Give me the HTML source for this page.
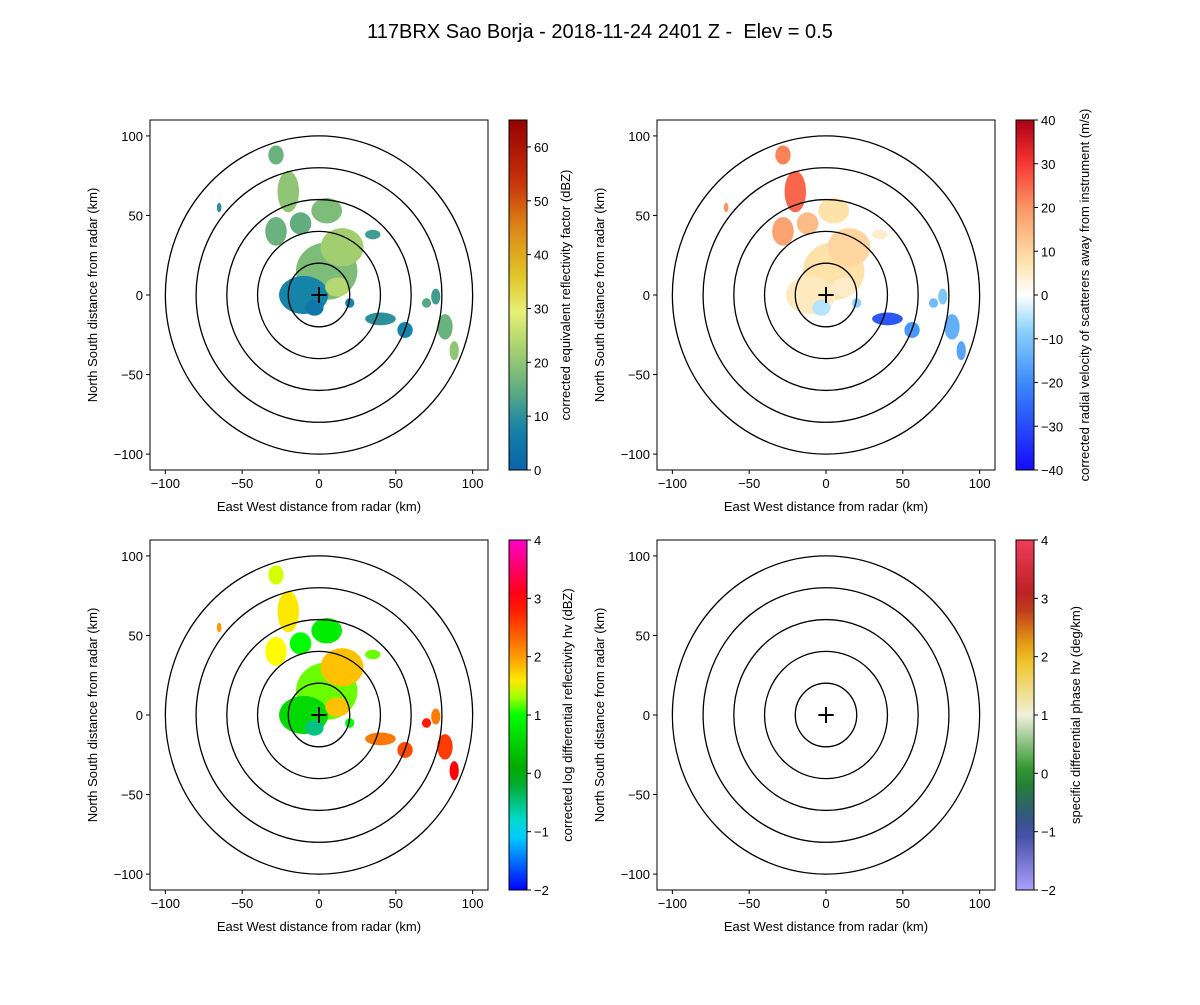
<!DOCTYPE html>
<html><head><meta charset="utf-8"><style>
body{margin:0;background:#fff;font-family:"Liberation Sans",sans-serif}
svg text{font-family:"Liberation Sans",sans-serif;fill:#000}
</style></head><body>
<svg id="fig" width="1200" height="1000" viewBox="0 0 1200 1000" xmlns="http://www.w3.org/2000/svg">
<rect width="1200" height="1000" fill="#fff"/>
<text x="600" y="38" text-anchor="middle" font-size="20" style="white-space:pre">117BRX Sao Borja - 2018-11-24 2401 Z -  Elev = 0.5</text>
</svg>
<script>
// echo cells: x km, y km, rx km, ry km
const cellX=[5,-10,15,-28,-12,5,-20,-28,35,-65,40,56,70,76,82,88,20,-3,12];
const cellY=[15,0,30,40,45,53,65,88,38,55,-15,-22,-5,-1,-20,-35,-5,-8,5];
const cellRX=[20,16,14,7,7,10,7,5,5,1.5,10,5,3,3,5,3,3,6,8];
const cellRY=[18,12,12,9,7,8,13,6,3,3,4,5,3,5,8,6,3,5,6];
const reflVals=[18,8,22,16,15,18,20,16,12,10,10,8,14,12,16,20,8,5,24];
const velVals=[8,6,10,18,14,8,25,22,5,20,-28,-18,-12,-10,-14,-16,-8,-5,5];
const zdrVals=[1.2,0.6,1.8,1.5,1.0,0.8,1.6,1.4,1.2,2,2.2,2.5,2.8,2.2,2.6,3.0,1.0,-0.5,1.8];
const refTicks=[0,10,20,30,40,50,60];
const velTicks=[-40,-30,-20,-10,0,10,20,30,40];
const zdrTicks=[-2,-1,0,1,2,3,4];
const kdpTicks=[-2,-1,0,1,2,3,4];
const axTicks=[-100,-50,0,50,100];
const rings=[20,40,60,80,100];

const NS='http://www.w3.org/2000/svg';
const svg=document.getElementById('fig');
function el(tag,attrs,parent){const e=document.createElementNS(NS,tag);for(const k in attrs)e.setAttribute(k,attrs[k]);(parent||svg).appendChild(e);return e;}
function interp(stops,t){t=Math.max(0,Math.min(1,t));for(let i=1;i<stops.length;i++){if(t<=stops[i][0]){const a=stops[i-1],b=stops[i];const f=(t-a[0])/(b[0]-a[0]||1);const c=[0,1,2].map(j=>Math.round(a[1][j]+(b[1][j]-a[1][j])*f));return `rgb(${c})`;}}const l=stops[stops.length-1][1];return `rgb(${l})`;}
const cmRef=[[0,[10,100,170]],[0.12,[20,130,170]],[0.22,[90,170,130]],[0.35,[170,210,110]],[0.45,[230,240,120]],[0.55,[225,200,40]],[0.7,[220,130,20]],[0.82,[200,50,10]],[1,[150,0,0]]];
const cmVel=[[0,[20,10,250]],[0.25,[60,140,250]],[0.4,[140,210,250]],[0.5,[255,255,255]],[0.6,[255,225,170]],[0.75,[250,150,100]],[0.88,[250,50,50]],[1,[170,0,20]]];
const cmZdr=[[0,[0,0,255]],[0.17,[0,230,255]],[0.33,[0,160,0]],[0.5,[0,255,0]],[0.58,[255,255,0]],[0.67,[255,150,0]],[0.83,[255,0,0]],[1,[255,0,200]]];
const cmKdp=[[0,[170,160,250]],[0.17,[60,70,160]],[0.33,[30,140,30]],[0.5,[240,240,220]],[0.67,[240,190,20]],[0.83,[180,30,30]],[1,[240,60,90]]];

const panels=[
 {x0:150,y0:120,name:'reflectivity',cm:cmRef,min:0,max:65,ticks:refTicks,vals:reflVals,lo:43,label:'corrected equivalent reflectivity factor (dBZ)'},
 {x0:657,y0:120,name:'velocity',cm:cmVel,min:-40,max:40,ticks:velTicks,vals:velVals,lo:55,label:'corrected radial velocity of scatterers away from instrument (m/s)'},
 {x0:150,y0:540,name:'zdr',cm:cmZdr,min:-2,max:4,ticks:zdrTicks,vals:zdrVals,lo:45,label:'corrected log differential reflectivity hv (dBZ)'},
 {x0:657,y0:540,name:'kdp',cm:cmKdp,min:-2,max:4,ticks:kdpTicks,vals:null,lo:46,label:'specific differential phase hv (deg/km)'}
];
const W=338,H=350;
panels.forEach((p,pi)=>{
 const g=el('g',{});
 
 
 const sx=v=>p.x0+(v+110)/220*W;
 const sy=v=>p.y0+H-(v+110)/220*H;
 const kx=W/220,ky=H/220;
 if(p.vals){
  cellX.forEach((cx,i)=>{
   const e=el('ellipse',{cx:sx(cx),cy:sy(cellY[i]),rx:cellRX[i]*kx,ry:cellRY[i]*ky,fill:interp(p.cm,(p.vals[i]-p.min)/(p.max-p.min))},g);
   
   
  });
 }
 rings.forEach(r=>{const c=el('ellipse',{cx:sx(0),cy:sy(0),rx:r*kx,ry:r*ky,fill:'none',stroke:'#000','stroke-width':1.3},g);
  
  });
 el('line',{x1:sx(-5),x2:sx(5),y1:sy(0),y2:sy(0),stroke:'#000','stroke-width':2},g);
 el('line',{x1:sx(0),x2:sx(0),y1:sy(-5),y2:sy(5),stroke:'#000','stroke-width':2},g);
 el('rect',{x:p.x0,y:p.y0,width:W,height:H,fill:'none',stroke:'#000','stroke-width':1},g);
 axTicks.forEach(t=>{
  el('line',{x1:sx(t),x2:sx(t),y1:p.y0+H,y2:p.y0+H+4,stroke:'#000'},g);
  const tx=el('text',{x:sx(t),y:p.y0+H+18,'text-anchor':'middle','font-size':13},g);tx.textContent=String(t).replace('-','−');
  
  el('line',{x1:p.x0-4,x2:p.x0,y1:sy(t),y2:sy(t),stroke:'#000'},g);
  const ty=el('text',{x:p.x0-7,y:sy(t)+5,'text-anchor':'end','font-size':13},g);ty.textContent=String(t).replace('-','−');
  
 });
 const xl=el('text',{x:p.x0+W/2,y:p.y0+H+41,'text-anchor':'middle','font-size':13},g);xl.textContent='East West distance from radar (km)';
 
 const yl=el('text',{x:0,y:0,'text-anchor':'middle','font-size':13,transform:`translate(${p.x0-53},${p.y0+H/2}) rotate(-90)`},g);yl.textContent='North South distance from radar (km)';
 
 // colorbar
 const cbx=p.x0+W+21,cbw=18;
 const gid='grad'+pi;
 const defs=el('defs',{},g);
 const lg=el('linearGradient',{id:gid,x1:0,y1:1,x2:0,y2:0},defs);
 for(let i=0;i<=20;i++){el('stop',{offset:i/20,'stop-color':interp(p.cm,i/20)},lg);}
 const cb=el('rect',{x:cbx,y:p.y0,width:cbw,height:H,fill:`url(#${gid})`,stroke:'#000','stroke-width':1},g);
 
 p.ticks.forEach(t=>{
  const yy=p.y0+H-(t-p.min)/(p.max-p.min)*H;
  el('line',{x1:cbx+cbw,x2:cbx+cbw+4,y1:yy,y2:yy,stroke:'#000'},g);
  const tt=el('text',{x:cbx+cbw+7,y:yy+5,'font-size':13},g);tt.textContent=String(t).replace('-','−');
  
 });
 const cl=el('text',{x:0,y:0,'text-anchor':'middle','font-size':13,transform:`translate(${cbx+cbw+p.lo},${p.y0+H/2}) rotate(-90)`},g);cl.textContent=p.label;
 
});
</script>
</body></html>
